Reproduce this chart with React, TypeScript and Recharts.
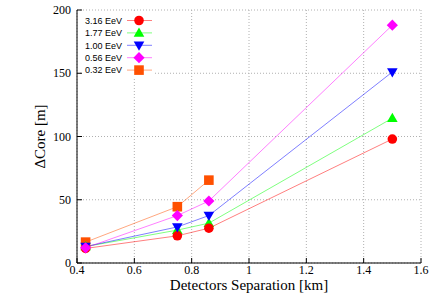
import React from "react";
import { CartesianGrid, Line, LineChart, XAxis, YAxis } from "recharts";

// detector separation [km]
const separations = [0.43, 0.75, 0.86, 1.5];

// core resolution [m] per energy
const core316 = [11.5, 21.5, 27.5, 98];
const core177 = [13, 26, 31.5, 114.5];
const core100 = [13, 28.5, 37.5, 151];
const core056 = [12, 37.5, 49, 188];
const core032 = [16.5, 44.5, 65.5, null];

const xTicks = [0.4, 0.6, 0.8, 1, 1.2, 1.4, 1.6];
const yTicks = [0, 50, 100, 150, 200];

const serif = "'Liberation Serif', 'Times New Roman', serif";
const sans = "'Liberation Sans', Arial, sans-serif";

type Shape = "circle" | "up" | "down" | "diamond" | "square";

const series: { key: string; name: string; color: string; shape: Shape; values: (number | null)[] }[] = [
  { key: "e316", name: "3.16 EeV", color: "#ff0000", shape: "circle", values: core316 },
  { key: "e177", name: "1.77 EeV", color: "#00ff00", shape: "up", values: core177 },
  { key: "e100", name: "1.00 EeV", color: "#0000ff", shape: "down", values: core100 },
  { key: "e056", name: "0.56 EeV", color: "#ff00ff", shape: "diamond", values: core056 },
  { key: "e032", name: "0.32 EeV", color: "#ff5000", shape: "square", values: core032 },
];

// drawing order so the overlaps look like the plot
const drawOrder = ["e032", "e177", "e316", "e100", "e056"];

const rows = separations.map((x, i) => {
  const row: Record<string, number | null> = { x };
  series.forEach((s) => (row[s.key] = s.values[i]));
  return row;
});

const Marker = ({ cx, cy, shape, color }: { cx: number; cy: number; shape: Shape; color: string }) => {
  if (shape === "circle") return <circle cx={cx} cy={cy} r={4.8} fill={color} />;
  if (shape === "square") return <rect x={cx - 4.8} y={cy - 4.8} width={9.6} height={9.6} fill={color} />;
  if (shape === "diamond")
    return <polygon points={`${cx},${cy - 5.6} ${cx + 5.6},${cy} ${cx},${cy + 5.6} ${cx - 5.6},${cy}`} fill={color} />;
  if (shape === "up")
    return <polygon points={`${cx},${cy - 5.5} ${cx + 5.3},${cy + 3.8} ${cx - 5.3},${cy + 3.8}`} fill={color} />;
  return <polygon points={`${cx},${cy + 5.5} ${cx + 5.3},${cy - 3.8} ${cx - 5.3},${cy - 3.8}`} fill={color} />;
};

const KeyBox = () => (
  <svg width={436} height={305} style={{ position: "absolute", left: 0, top: 0, pointerEvents: "none" }}>
    <rect x={83} y={11} width={72} height={66} fill="#fff" />
    {series.map((s, i) => {
      const y = 20.5 + i * 12.4;
      return (
        <g key={s.key}>
          <text x={122} y={y + 3.2} textAnchor="end" fontSize={9} fontFamily={sans} fill="#000">
            {s.name}
          </text>
          <line x1={127} x2={152} y1={y} y2={y} stroke={s.color} strokeOpacity={0.5} />
          <Marker cx={139} cy={y} shape={s.shape} color={s.color} />
        </g>
      );
    })}
  </svg>
);

const YLabel = (props: any) => {
  const vb = props.viewBox;
  const cx = vb.x + 45;
  const cy = vb.y + vb.height / 2;
  return (
    <text x={cx} y={cy} transform={`rotate(-90, ${cx}, ${cy})`} textAnchor="middle" fontSize={15} fontFamily={serif} fill="#000">
      ΔCore [m]
    </text>
  );
};

const XLabel = (props: any) => {
  const vb = props.viewBox;
  return (
    <text x={vb.x + vb.width / 2} y={vb.y + 27} textAnchor="middle" fontSize={15} fontFamily={serif} fill="#000">
      Detectors Separation [km]
    </text>
  );
};

const SerifTick = (props: any) => {
  const { x, y, payload, textAnchor, orientation } = props;
  const dy = orientation === "bottom" ? 9 : 4;
  return (
    <text x={x} y={y + dy} textAnchor={textAnchor} fontSize={12} fontFamily={serif} fill="#000">
      {String(payload.value)}
    </text>
  );
};

const App = () => {
  return (
    <div style={{ position: "absolute", left: 0, top: 0, width: 436, height: 305, background: "#fff", fontFamily: serif }}>
      <LineChart width={436} height={305} data={rows} margin={{ top: 10, right: 15, bottom: 0, left: 0 }}>
        <CartesianGrid strokeDasharray="1 2" stroke="#b0b0b0" />
        <XAxis
          dataKey="x"
          type="number"
          domain={[0.4, 1.6]}
          ticks={xTicks}
          height={42}
          tick={<SerifTick orientation="bottom" />}
          tickSize={-5}
          tickMargin={7}
          axisLine={{ stroke: "#000" }}
          tickLine={{ stroke: "#000" }}
          label={{ content: XLabel }}
        />
        <XAxis
          xAxisId="top"
          dataKey="x"
          type="number"
          orientation="top"
          domain={[0.4, 1.6]}
          ticks={xTicks}
          height={0}
          tick={false}
          tickSize={-5}
          axisLine={{ stroke: "#000" }}
          tickLine={{ stroke: "#000" }}
        />
        <YAxis
          type="number"
          domain={[0, 200]}
          ticks={yTicks}
          width={77}
          tick={<SerifTick orientation="left" />}
          tickSize={-5}
          tickMargin={11}
          axisLine={{ stroke: "#000" }}
          tickLine={{ stroke: "#000" }}
          label={{ content: YLabel }}
        />
        <YAxis
          yAxisId="right"
          orientation="right"
          type="number"
          domain={[0, 200]}
          ticks={yTicks}
          width={0}
          tick={false}
          tickSize={-5}
          axisLine={{ stroke: "#000" }}
          tickLine={{ stroke: "#000" }}
        />
        {drawOrder.map((k) => {
          const s = series.find((d) => d.key === k)!;
          return (
            <Line
              key={s.key}
              dataKey={s.key}
              name={s.name}
              stroke={s.color}
              strokeOpacity={0.5}
              strokeWidth={1}
              isAnimationActive={false}
              activeDot={false}
              dot={(p: any) =>
                p.cy == null || p.value == null ? (
                  <g key={`${s.key}-${p.index}`} />
                ) : (
                  <Marker key={`${s.key}-${p.index}`} cx={p.cx} cy={p.cy} shape={s.shape} color={s.color} />
                )
              }
            />
          );
        })}
      </LineChart>
      <KeyBox />
    </div>
  );
};

export default App;
